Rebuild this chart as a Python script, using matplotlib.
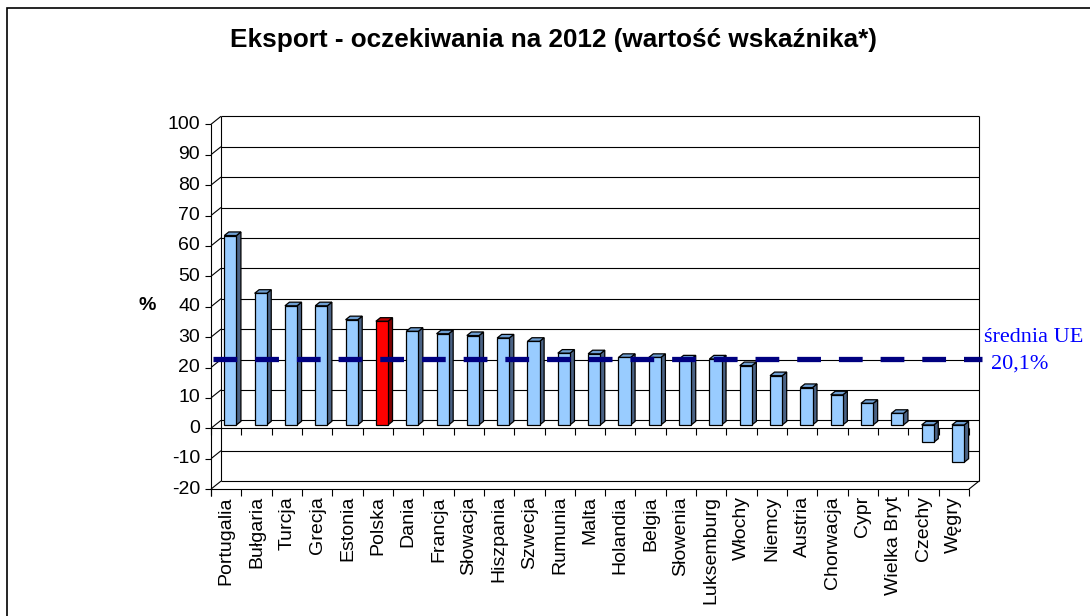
import matplotlib
matplotlib.use("Agg")
import matplotlib.pyplot as plt
from matplotlib.patches import Polygon, Rectangle

# ---------------------------------------------------------------- data
countries = ["Portugalia", "Bułgaria", "Turcja", "Grecja", "Estonia", "Polska",
             "Dania", "Francja", "Słowacja", "Hiszpania", "Szwecja", "Rumunia",
             "Malta", "Holandia", "Belgia", "Słowenia", "Luksemburg", "Włochy",
             "Niemcy", "Austria", "Chorwacja", "Cypr", "Wielka Bryt", "Czechy", "Węgry"]
values = [62.3, 43.3, 39.2, 39.2, 34.6, 34.1, 30.8, 30.0, 29.4, 28.6, 27.5, 23.6,
          23.4, 22.2, 22.2, 21.7, 21.7, 19.5, 16.2, 12.3, 9.9, 7.1, 3.8, -5.7, -12.3]
highlight = "Polska"
eu_avg = 20.1
yticks = list(range(-20, 101, 10))

# ---------------------------------------------------------------- geometry
W, H = 1090, 616
X0, Y0 = 211, 428.3          # front-left corner of the value axis at 0 (px)
PX_CAT, PX_VAL = 30.32, 3.04  # px per category / per value unit
DX, DV = 10 / PX_CAT, 8 / PX_VAL   # depth offset of the back wall
N = len(countries)

plt.rcParams["font.family"] = ["Liberation Sans", "DejaVu Sans"]
fig = plt.figure(figsize=(W / 100, H / 100), dpi=100)
ax = fig.add_axes([0, 0, 1, 1])
ax.set_xlim(-X0 / PX_CAT, (W - X0) / PX_CAT)
ax.set_ylim((Y0 - H) / PX_VAL, Y0 / PX_VAL)
ax.axis("off")

K = dict(color="black", lw=0.8, solid_capstyle="butt")
lo, hi = yticks[0], yticks[-1]

# walls and gridlines
for v in yticks:
    ax.plot([DX, N + DX], [v + DV, v + DV], zorder=1, **K)
    ax.plot([0, DX], [v, v + DV], zorder=1, **K)
    ax.plot([-0.2, 0], [v, v], zorder=1, **K)
    ax.text(-0.36, v, str(v), ha="right", va="center", fontsize=14)
ax.plot([DX, DX], [lo + DV, hi + DV], zorder=1, **K)
ax.plot([N + DX, N + DX], [lo + DV, hi + DV], zorder=1, **K)
ax.plot([0, 0], [lo - 2.2, hi], zorder=6, **K)
ax.plot([0, N], [lo, lo], zorder=1, **K)
ax.plot([N, N + DX], [lo, lo + DV], zorder=1, **K)
ax.plot([0, N], [0, 0], zorder=2, **K)
for k in range(N + 1):
    ax.plot([k, k], [0, -2.2], zorder=2, **K)
    ax.plot([k, k], [lo, lo - 2.2], zorder=1, **K)

# bars (pseudo 3D)
d0, dd, bw = 0.42, 0.45, 0.4
fronts = ["#ff0000" if c == highlight else "#99ccff" for c in countries]
sides = ["#800000" if c == highlight else "#4a6284" for c in countries]
tops = ["#c00000" if c == highlight else "#6f9fd2" for c in countries]
xc = [i + 0.5 + d0 * DX for i in range(N)]
ax.bar(xc, values, width=bw, bottom=d0 * DV, color=fronts, edgecolor="black",
       linewidth=0.9, zorder=4)
ox, oy = dd * DX, dd * DV
for x, v, sc, tc in zip(xc, values, sides, tops):
    b = d0 * DV
    x1 = x + bw / 2
    top = b + max(v, 0)
    bot = b + min(v, 0)
    ax.add_patch(Polygon([(x1, bot), (x1 + ox, bot + oy), (x1 + ox, top + oy), (x1, top)],
                         closed=True, fc=sc, ec="black", lw=0.9, zorder=3))
    ax.add_patch(Polygon([(x - bw / 2, top), (x1, top), (x1 + ox, top + oy),
                          (x - bw / 2 + ox, top + oy)],
                         closed=True, fc=tc, ec="black", lw=0.9, zorder=3))

# category labels
for i, c in enumerate(countries):
    ax.text(i + 0.5, lo - 2.3, c, rotation=90, ha="center", va="top", fontsize=14)

# EU average (drawn on the back wall)
ax.plot([-0.25 + DX, N + 0.1 + DX], [eu_avg + DV, eu_avg + DV], color="#000080", lw=3.8,
        ls=(0, (4.5, 3.4)), dash_capstyle="butt", zorder=8)
fig.text(984 / W, 1 - 341.7 / H, "średnia UE", color="#0000ff", fontsize=16,
         family="Liberation Serif", va="baseline", ha="left")
fig.text(991.5 / W, 1 - 369 / H, "20,1%", color="#0000ff", fontsize=16,
         family="Liberation Serif", va="baseline", ha="left")

# titles
fig.text(553.5 / W, 1 - 46.7 / H, "Eksport - oczekiwania na 2012 (wartość wskaźnika*)",
         ha="center", va="baseline", fontsize=18.8, fontweight="bold")
fig.text(147 / W, 1 - 305 / H, "%", ha="center", va="center", fontsize=14, fontweight="bold")

# chart-area border
fig.add_artist(Rectangle((7 / W, -0.05), 1.1, 1 - 8 / H + 0.05, transform=fig.transFigure,
                         fill=False, ec="black", lw=1.2))

fig.savefig("out.png", dpi=100)
